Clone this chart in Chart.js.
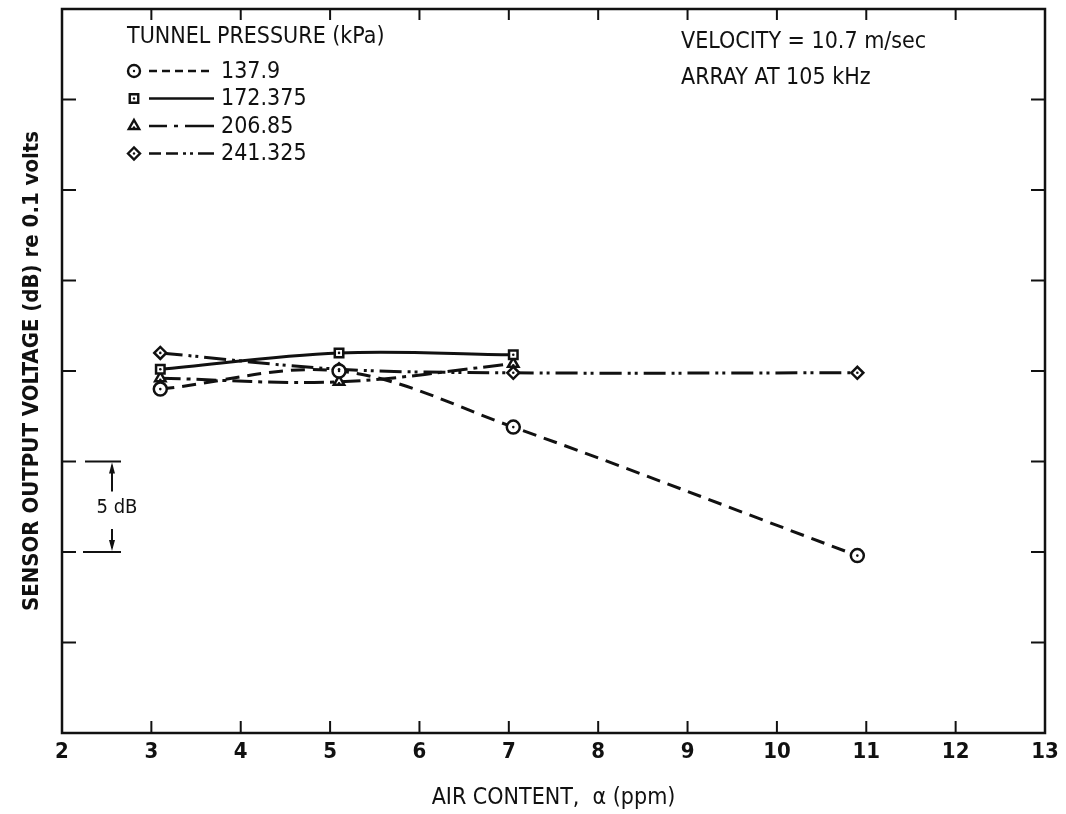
<!DOCTYPE html>
<html>
<head>
<meta charset="utf-8">
<script src="https://cdn.jsdelivr.net/npm/chart.js@4/dist/chart.umd.min.js"></script>
<style>
    body { margin: 0; background: #fff; }
    #wrap { width: 1066px; height: 814px; }
</style>
</head>
<body>
<div id="wrap"><canvas id="chart" width="1066" height="814"></canvas></div>
<script>
// air content (ppm) where each series was measured
const airContent = [3.1, 5.1, 7.05, 10.9];

// sensor output (dB re 0.1 volts)
const p1379 = [19.0, 20.0, 16.9, 9.8];
const p172375 = [20.1, 21.0, 20.9];
const p20685 = [19.6, 19.4, 20.4];
const p241325 = [21.0, 20.1, 19.9, 19.9];

const seriesLabels = ['137.9', '172.375', '206.85', '241.325'];
const xTicks = [2, 3, 4, 5, 6, 7, 8, 9, 10, 11, 12, 13];

const FONT = "'DejaVu Sans Condensed', 'Liberation Sans Narrow', 'DejaVu Sans', sans-serif";
const INK = '#111';

function toPoints(vals) {
    return vals.map((v, i) => ({ x: airContent[i], y: v }));
}

function serie(label, vals, style, dash, legendDash) {
    return {
        label: label,
        data: toPoints(vals),
        borderColor: INK,
        borderWidth: 3,
        borderDash: dash,
        legendDash: legendDash,
        tension: 0.35,
        pointStyle: style,
        pointRadius: style === 'circle' ? 6.5 : 6,
        pointBorderWidth: 2.5,
        pointBackgroundColor: '#fff',
        pointBorderColor: INK,
        fill: false
    };
}

function line(ctx, x1, y1, x2, y2) {
    ctx.beginPath();
    ctx.moveTo(x1, y1);
    ctx.lineTo(x2, y2);
    ctx.stroke();
}

// little dot in the middle of each open marker
const centerDots = {
    id: 'centerDots',
    afterDatasetsDraw(chart) {
        const ctx = chart.ctx;
        ctx.save();
        ctx.fillStyle = INK;
        chart.data.datasets.forEach((ds, i) => {
            chart.getDatasetMeta(i).data.forEach(pt => {
                ctx.beginPath();
                ctx.arc(pt.x, pt.y + (ds.pointStyle === 'triangle' ? 1.5 : 0), 1.3, 0, Math.PI * 2);
                ctx.fill();
            });
        });
        ctx.restore();
    }
};

// frame, inward ticks, legend and notes
const decor = {
    id: 'decor',
    afterDraw(chart) {
        const ctx = chart.ctx;
        const a = chart.chartArea;
        const x = chart.scales.x;
        const y = chart.scales.y;
        ctx.save();
        ctx.strokeStyle = INK;
        ctx.fillStyle = INK;
        ctx.lineWidth = 2.5;
        ctx.strokeRect(a.left, a.top, a.right - a.left, a.bottom - a.top);

        ctx.lineWidth = 2;
        x.ticks.forEach(t => {
            const px = x.getPixelForValue(t.value);
            if (px <= a.left + 2 || px >= a.right - 2) return;
            line(ctx, px, a.bottom, px, a.bottom - 12);
            line(ctx, px, a.top, px, a.top + 11);
        });
        y.ticks.forEach(t => {
            const py = y.getPixelForValue(t.value);
            if (py <= a.top + 2 || py >= a.bottom - 2) return;
            line(ctx, a.left, py, a.left + 14, py);
            line(ctx, a.right, py, a.right - 14, py);
        });

        // legend
        ctx.font = '23px ' + FONT;
        ctx.textBaseline = 'middle';
        ctx.textAlign = 'left';
        ctx.fillText('TUNNEL PRESSURE (kPa)', 127, 37);
        chart.data.datasets.forEach((ds, i) => {
            const ly = 71 + i * 27.5;
            ctx.lineWidth = 2.4;
            ctx.fillStyle = '#fff';
            Chart.helpers.drawPoint(ctx, { pointStyle: ds.pointStyle, radius: 6, rotation: 0, borderWidth: 2.4 }, 134, ly);
            ctx.fillStyle = INK;
            ctx.beginPath();
            ctx.arc(134, ly + (ds.pointStyle === 'triangle' ? 1.5 : 0), 1.2, 0, Math.PI * 2);
            ctx.fill();
            ctx.lineWidth = 2.4;
            ctx.setLineDash(ds.legendDash);
            line(ctx, 149, ly, 214, ly);
            ctx.setLineDash([]);
            ctx.fillText(ds.label, 221, ly + 1);
        });

        ctx.fillText('VELOCITY = 10.7 m/sec', 681, 42);
        ctx.fillText('ARRAY AT 105 kHz', 681, 78);

        // 5 dB scale bar
        const y15 = y.getPixelForValue(15);
        const y10 = y.getPixelForValue(10);
        ctx.lineWidth = 2;
        line(ctx, 85, y15, 121, y15);
        line(ctx, 83, y10, 121, y10);
        line(ctx, 112, y15 + 4, 112, y15 + 30);
        line(ctx, 112, y10 - 4, 112, y10 - 23);
        ctx.beginPath();
        ctx.moveTo(112, y15 + 1); ctx.lineTo(109, y15 + 12); ctx.lineTo(115, y15 + 12); ctx.closePath();
        ctx.fill();
        ctx.beginPath();
        ctx.moveTo(112, y10 - 1); ctx.lineTo(109, y10 - 12); ctx.lineTo(115, y10 - 12); ctx.closePath();
        ctx.fill();
        ctx.font = '20px ' + FONT;
        ctx.textAlign = 'center';
        ctx.fillText('5 dB', 117, (y15 + y10) / 2 + 1);
        ctx.restore();
    }
};

new Chart(document.getElementById('chart').getContext('2d'), {
    type: 'line',
    data: {
        datasets: [
            serie(seriesLabels[0], p1379, 'circle', [14, 8], [8, 5]),
            serie(seriesLabels[1], p172375, 'rect', [], []),
            serie(seriesLabels[2], p20685, 'triangle', [20, 6, 4, 6], [18, 7, 4, 7, 30]),
            serie(seriesLabels[3], p241325, 'rectRot', [22, 6, 3, 4, 3, 6], [12, 5, 12, 5, 3, 4, 3, 5, 20])
        ]
    },
    options: {
        responsive: false,
        animation: false,
        devicePixelRatio: 1,
        layout: { padding: { top: 8, right: 21, left: 0, bottom: 0 } },
        plugins: {
            legend: { display: false },
            tooltip: { enabled: false }
        },
        scales: {
            x: {
                type: 'linear',
                min: 2,
                max: 13,
                afterBuildTicks: s => { s.ticks = xTicks.map(v => ({ value: v })); },
                afterFit: s => { s.height = 81; },
                grid: { display: false, drawTicks: false },
                border: { display: false },
                ticks: { color: INK, padding: 6, font: { family: FONT, size: 22, weight: 'bold' } },
                title: {
                    display: true,
                    text: 'AIR CONTENT,  \u03b1 (ppm)',
                    color: INK,
                    font: { family: FONT, size: 23 },
                    padding: { top: 0, bottom: 2 }
                }
            },
            y: {
                min: 0,
                max: 40,
                afterFit: s => { s.width = 62; },
                grid: { display: false, drawTicks: false },
                border: { display: false },
                ticks: { display: false, stepSize: 5 },
                title: {
                    display: true,
                    text: 'SENSOR OUTPUT VOLTAGE (dB) re 0.1 volts',
                    color: INK,
                    font: { family: FONT, size: 22, weight: 'bold' },
                    padding: { top: 19, bottom: 0 }
                }
            }
        }
    },
    plugins: [centerDots, decor]
});
</script>
</body>
</html>
